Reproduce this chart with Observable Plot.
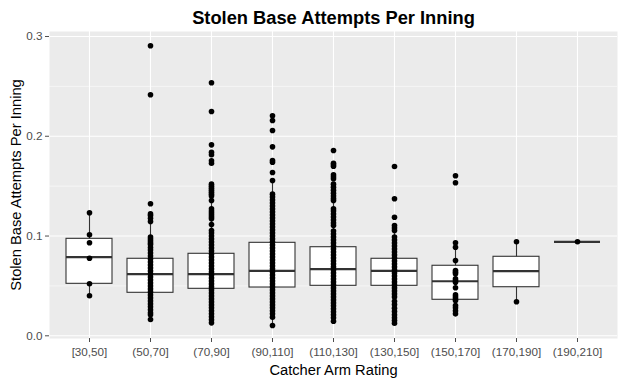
<!DOCTYPE html>
<html>
<head>
<meta charset="utf-8">
<script src="https://cdn.jsdelivr.net/npm/d3@7"></script>
<script src="https://cdn.jsdelivr.net/npm/@observablehq/plot@0.6"></script>
<style>
  html, body { margin: 0; padding: 0; background: white; }
  #chart { width: 625px; height: 385px; }
</style>
</head>
<body>
<div id="chart"></div>
<script>
// ---- Data ----
const titleText = "Stolen Base Attempts Per Inning";
const xTitle = "Catcher Arm Rating";
const yTitle = "Stolen Base Attempts Per Inning";

const categories = ["[30,50]", "(50,70]", "(70,90]", "(90,110]", "(110,130]", "(130,150]", "(150,170]", "(170,190]", "(190,210]"];

// box summary statistics per category
const q1      = [0.0521, 0.0431, 0.0471, 0.0484, 0.0501, 0.0501, 0.0361, 0.0487, 0.0942];
const medians = [0.0788, 0.0618, 0.0618, 0.0651, 0.0668, 0.0651, 0.0547, 0.0648, 0.0942];
const q3      = [0.0972, 0.0772, 0.0822, 0.0932, 0.0888, 0.0772, 0.0702, 0.0792, 0.0942];
const whiskLo = [0.0401, 0.0163, 0.0130, 0.0103, 0.0146, 0.0126, 0.0220, 0.0341, 0.0942];
const whiskHi = [0.1233, 0.1222, 0.1340, 0.1557, 0.1465, 0.1106, 0.0932, 0.0942, 0.0942];

// individual observations per category
const pts30_50 = [0.1233, 0.1012, 0.0932, 0.0778, 0.0521, 0.0401];
const pts50_70 = [0.2907, 0.2416, 0.1323, 0.1222, 0.1205, 0.1178, 0.1146,
  0.099, 0.097, 0.095, 0.093, 0.0915, 0.0885, 0.086, 0.083, 0.080, 0.077, 0.074, 0.071,
  0.068, 0.065, 0.062, 0.059, 0.056, 0.053, 0.050, 0.047, 0.044, 0.041, 0.038, 0.035,
  0.032, 0.029, 0.026, 0.023, 0.021, 0.0163];
const pts70_90 = [0.2536, 0.2248, 0.1914, 0.1840, 0.1815, 0.1755, 0.1730,
  0.152, 0.150, 0.148, 0.146, 0.144, 0.142, 0.140, 0.1356,
  0.1273, 0.125, 0.123, 0.121, 0.119, 0.1173, 0.1116,
  0.1055, 0.103, 0.100, 0.097, 0.094, 0.091, 0.088, 0.085, 0.082, 0.079, 0.076, 0.073,
  0.070, 0.067, 0.064, 0.061, 0.058, 0.055, 0.052, 0.049, 0.046, 0.043, 0.040, 0.037,
  0.034, 0.031, 0.028, 0.025, 0.022, 0.019, 0.016, 0.0130];
const pts90_110 = [0.2205, 0.2158, 0.2058, 0.1894, 0.1757, 0.1740, 0.1637, 0.1557,
  0.142, 0.139, 0.136, 0.133, 0.130, 0.127, 0.124, 0.121, 0.118, 0.115, 0.112, 0.109,
  0.106, 0.103, 0.100, 0.097, 0.094, 0.091, 0.088, 0.085, 0.082, 0.079, 0.076, 0.073,
  0.070, 0.067, 0.064, 0.061, 0.058, 0.055, 0.052, 0.049, 0.046, 0.043, 0.040, 0.037,
  0.034, 0.031, 0.028, 0.025, 0.022, 0.0187, 0.0103];
const pts110_130 = [0.1857, 0.1730, 0.1714, 0.1700, 0.1614, 0.1594, 0.1574,
  0.152, 0.149, 0.146, 0.143, 0.140, 0.1375, 0.1356,
  0.1273, 0.125, 0.122, 0.119, 0.116, 0.113, 0.1106,
  0.105, 0.102, 0.099, 0.096, 0.093, 0.090, 0.087, 0.084, 0.081, 0.078, 0.075, 0.072,
  0.069, 0.066, 0.063, 0.060, 0.057, 0.054, 0.051, 0.048, 0.045, 0.042, 0.039, 0.036,
  0.033, 0.030, 0.027, 0.024, 0.021, 0.018, 0.0146];
const pts130_150 = [0.1697, 0.1373, 0.1189, 0.1106, 0.1080, 0.1055,
  0.099, 0.096, 0.093, 0.090, 0.087, 0.084, 0.081, 0.078, 0.075, 0.072, 0.069, 0.066,
  0.063, 0.060, 0.057, 0.054, 0.051, 0.048, 0.045, 0.042, 0.039,
  0.0347, 0.0314, 0.0277, 0.0244, 0.0210, 0.0180, 0.0153, 0.0126];
const pts150_170 = [0.1604, 0.1534, 0.0932, 0.0888, 0.0755, 0.0655, 0.0638, 0.0621,
  0.0571, 0.0554, 0.0537, 0.0481, 0.0410, 0.0390, 0.0370, 0.0354, 0.0304, 0.0280,
  0.0250, 0.0220];
const pts170_190 = [0.0942, 0.0341];
const pts190_210 = [0.0942];

const pointsByCategory = [pts30_50, pts50_70, pts70_90, pts90_110, pts110_130,
  pts130_150, pts150_170, pts170_190, pts190_210];

const yMajor = [0, 0.1, 0.2, 0.3];
const yMinor = [0.05, 0.15, 0.25];

// ---- Tables built from the arrays ----
const boxes = categories.map((c, i) => ({
  cat: c, q1: q1[i], med: medians[i], q3: q3[i], lo: whiskLo[i], hi: whiskHi[i]
}));
const points = categories.flatMap((c, i) => pointsByCategory[i].map(v => ({cat: c, v})));

const chart = Plot.plot({
  width: 625,
  height: 385,
  marginLeft: 49,
  marginRight: 8,
  marginTop: 31,
  marginBottom: 47,
  style: {fontFamily: "'Liberation Sans', Arial, sans-serif", background: "white"},
  x: {type: "band", domain: categories, paddingInner: 0.25, paddingOuter: 0.225},
  y: {domain: [-0.0027, 0.305]},
  marks: [
    Plot.frame({fill: "#EBEBEB", stroke: null}),
    Plot.ruleY(yMinor, {stroke: "white", strokeWidth: 0.55}),
    Plot.ruleY(yMajor, {stroke: "white", strokeWidth: 1.1}),
    Plot.ruleX(categories, {x: d => d, stroke: "white", strokeWidth: 1.1}),
    Plot.ruleX(boxes, {x: "cat", y1: "lo", y2: "hi", stroke: "#333333", strokeWidth: 1.1}),
    Plot.barY(boxes, {x: "cat", y1: "q1", y2: "q3", fill: "white", stroke: "#333333", strokeWidth: 1.1}),
    Plot.tickY(boxes, {x: "cat", y: "med", stroke: "#333333", strokeWidth: 2.2}),
    Plot.dot(points, {x: "cat", y: "v", r: 2.8, fill: "black", stroke: null}),
    Plot.axisY({ticks: yMajor, tickFormat: d => d.toFixed(1), tickSize: 4, tickPadding: 3,
      fontSize: 11.7, color: "#4D4D4D", label: null}),
    Plot.axisX({tickSize: 4, tickPadding: 5, fontSize: 11.7, color: "#4D4D4D", label: null}),
    Plot.text([titleText], {frameAnchor: "top", textAnchor: "middle", lineAnchor: "middle",
      dy: -13.8, fontSize: 18.3, fontWeight: "bold", fill: "black"}),
    Plot.text([xTitle], {frameAnchor: "bottom", textAnchor: "middle", lineAnchor: "middle",
      dy: 31.5, fontSize: 14.7, fill: "black"}),
    Plot.text([yTitle], {frameAnchor: "left", textAnchor: "middle", lineAnchor: "middle",
      dx: -33.2, rotate: -90, fontSize: 14.7, fill: "black"})
  ]
});
document.getElementById("chart").appendChild(chart);
</script>
</body>
</html>
